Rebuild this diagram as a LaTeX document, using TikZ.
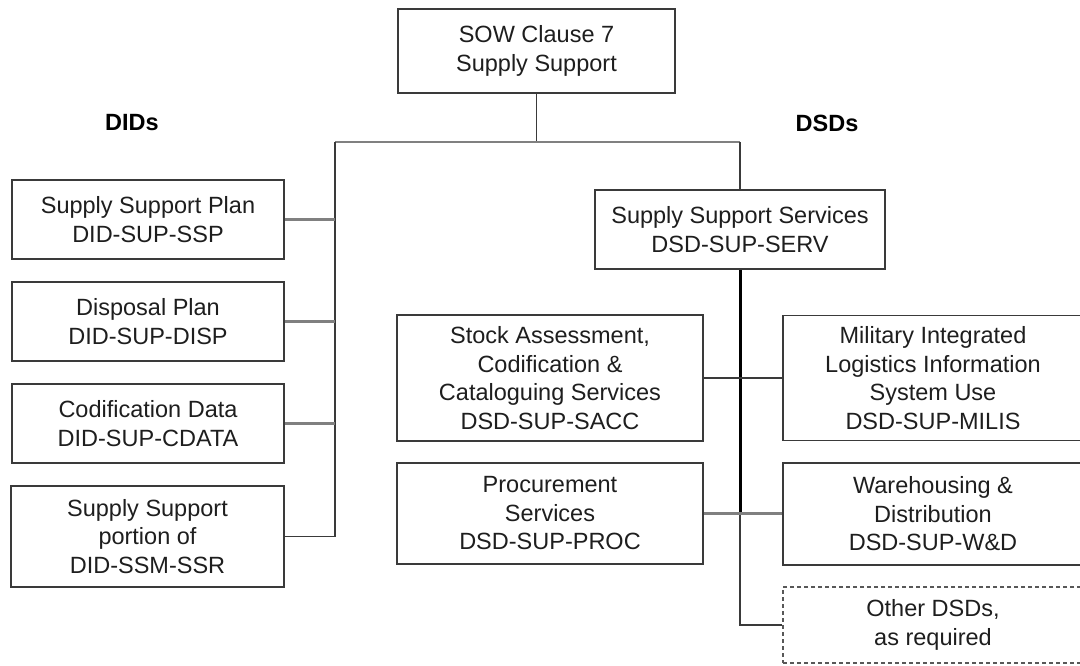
\documentclass[tikz,border=0pt]{standalone}
\usepackage{fontspec}
\setmainfont{Liberation Sans}
\begin{document}
\begin{tikzpicture}[x=1pt,y=-1pt,
  box/.style={draw=boxline, line width=1.6pt, rectangle, inner sep=0pt,
    align=center, text=txt, font=\fontsize{23.5}{28.5}\selectfont},
  otherbox/.style={box, dashed, draw=boxline!85, dash pattern=on 4pt off 3pt},
  head/.style={text=black, font=\fontsize{23.5}{28}\selectfont\bfseries},
  link/.style={draw=boxline, line width=1.6pt},
  greylink/.style={draw=linkgrey, line width=2.4pt},
  spine/.style={draw=black, line width=3pt}]
\definecolor{boxline}{HTML}{3A3A3A}
\definecolor{linkgrey}{HTML}{808080}
\definecolor{txt}{HTML}{1E1E1E}
\clip (0,0) rectangle (1080,666);
\fill[white] (0,0) rectangle (1080,666);

% headings
\node[head] (didh) at (132,123) {DIDs};
\node[head] (dsdh) at (827,123) {DSDs};

% clause box
\node[box, minimum width=277pt, minimum height=84pt] (top) at (536.5,51) {SOW Clause 7\\Supply Support};

% DID column
\node[box, minimum width=272pt, minimum height=79pt] (ssp) at (148,219.5) {Supply Support Plan\\DID-SUP-SSP};
\node[box, minimum width=272pt, minimum height=79pt] (disp) at (148,321.5) {Disposal Plan\\DID-SUP-DISP};
\node[box, minimum width=272pt, minimum height=79pt] (cdata) at (148,423.5) {Codification Data\\DID-SUP-CDATA};
\node[box, minimum width=273pt, minimum height=101pt] (ssr) at (147.5,536.5) {Supply Support\\portion of\\DID-SSM-SSR};

% DSD column
\node[box, minimum width=290pt, minimum height=79pt] (serv) at (740,229.5) {Supply Support Services\\DSD-SUP-SERV};
\node[box, minimum width=306pt, minimum height=126pt] (sacc) at (550,378) {Stock Assessment,\\Codification \&\\Cataloguing Services\\DSD-SUP-SACC};
\node[box, minimum width=306pt, minimum height=101pt] (proc) at (550,513.5) {Procurement\\Services\\DSD-SUP-PROC};
\node[box, minimum width=300pt, minimum height=125pt] (milis) at (933,378) {Military Integrated\\Logistics Information\\System Use\\DSD-SUP-MILIS};
\node[box, minimum width=300pt, minimum height=102pt] (wd) at (933,514) {Warehousing \&\\Distribution\\DSD-SUP-W\&D};
\node[otherbox, minimum width=300pt, minimum height=76pt] (other) at (933,625) {Other DSDs,\\as required};

% junction points
\coordinate (bus) at (536.5,142);
\coordinate (busL) at (335,142);
\coordinate (busR) at (740,142);

% clause to the two branches
\draw[link] (top.south) -- (bus);
\draw[greylink] (busL) -- (busR);
\draw[link] (busR) -- (serv.north);

% DID branch
\draw[link] (busL) |- (ssr.east);
\draw[greylink] (ssp.east) -- (ssp.east -| busL);
\draw[greylink] (disp.east) -- (disp.east -| busL);
\draw[greylink] (cdata.east) -- (cdata.east -| busL);

% DSD branch
\draw[spine] (serv.south) -- (serv.south |- proc.east);
\draw[link] (serv.south |- proc.east) |- (other.west);
\draw[link] (sacc.east) -- (milis.west);
\draw[greylink] (proc.east) -- (proc.east -| wd.west);
\end{tikzpicture}
\end{document}
